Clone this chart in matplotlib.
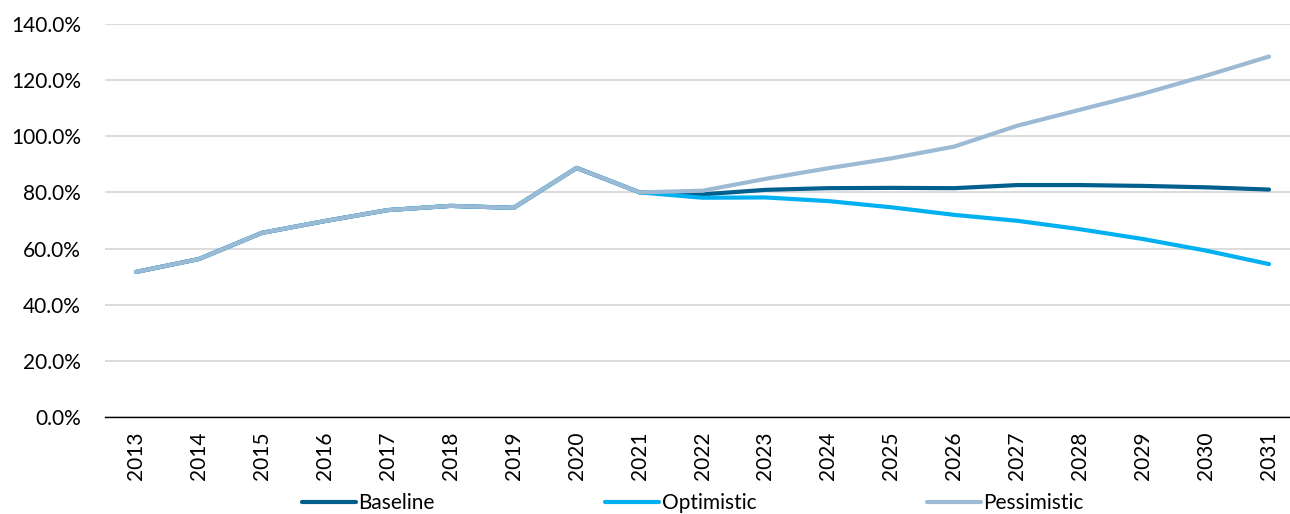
import matplotlib
matplotlib.use("Agg")
import matplotlib.pyplot as plt
from matplotlib.ticker import FuncFormatter

plt.rcParams['font.family'] = ['Lato', 'DejaVu Sans']

years = list(range(2013, 2032))
baseline = [51.7, 56.3, 65.6, 69.8, 73.7, 75.2, 74.5, 88.7, 80.0,
            79.3, 80.9, 81.5, 81.6, 81.5, 82.6, 82.6, 82.3, 81.8, 81.0]
optimistic = [51.7, 56.3, 65.6, 69.8, 73.7, 75.2, 74.5, 88.7, 80.0,
              78.1, 78.2, 76.9, 74.7, 72.0, 69.9, 66.9, 63.4, 59.3, 54.5]
pessimistic = [51.7, 56.3, 65.6, 69.8, 73.7, 75.2, 74.5, 88.7, 80.0,
               80.6, 84.8, 88.6, 92.1, 96.3, 103.7, 109.4, 115.1, 121.5, 128.3]
yticks = [0, 20, 40, 60, 80, 100, 120, 140]

fig = plt.figure(figsize=(12.9, 5.14), dpi=100)
ax = fig.add_axes([104.5 / 1290, 0.188, 1196 / 1290, 0.766])

ax.plot(years, baseline, color='#005F8C', lw=3.0, label='Baseline', solid_capstyle='round')
ax.plot(years, optimistic, color='#00B0F0', lw=3.0, label='Optimistic', solid_capstyle='round')
ax.plot(years, pessimistic, color='#9DBAD5', lw=3.0, label='Pessimistic', solid_capstyle='round')

ax.set_xlim(years[0] - 0.5, years[-1] + 0.5)
ax.set_ylim(0, 140)
ax.set_yticks(yticks)
ax.yaxis.set_major_formatter(FuncFormatter(lambda v, p: f"{v:.1f}%"))
ax.set_xticks(years)
ax.set_xticklabels([str(y) for y in years], rotation=90)
ax.tick_params(axis='both', length=0, labelsize=15, colors='black')
ax.tick_params(axis='x', pad=10)
ax.tick_params(axis='y', pad=17)

ax.grid(axis='y', color='#D9D9D9', lw=1.3)
ax.set_axisbelow(True)
for s in ['top', 'right', 'left']:
    ax.spines[s].set_visible(False)
ax.spines['bottom'].set_color('black')
ax.spines['bottom'].set_linewidth(1.0)

fig.legend(loc='lower center', bbox_to_anchor=(0.537, -0.035), ncol=3, frameon=False,
           fontsize=15, handlelength=2.6, handletextpad=0.1, columnspacing=8.2)

fig.savefig('out.png', dpi=100)
